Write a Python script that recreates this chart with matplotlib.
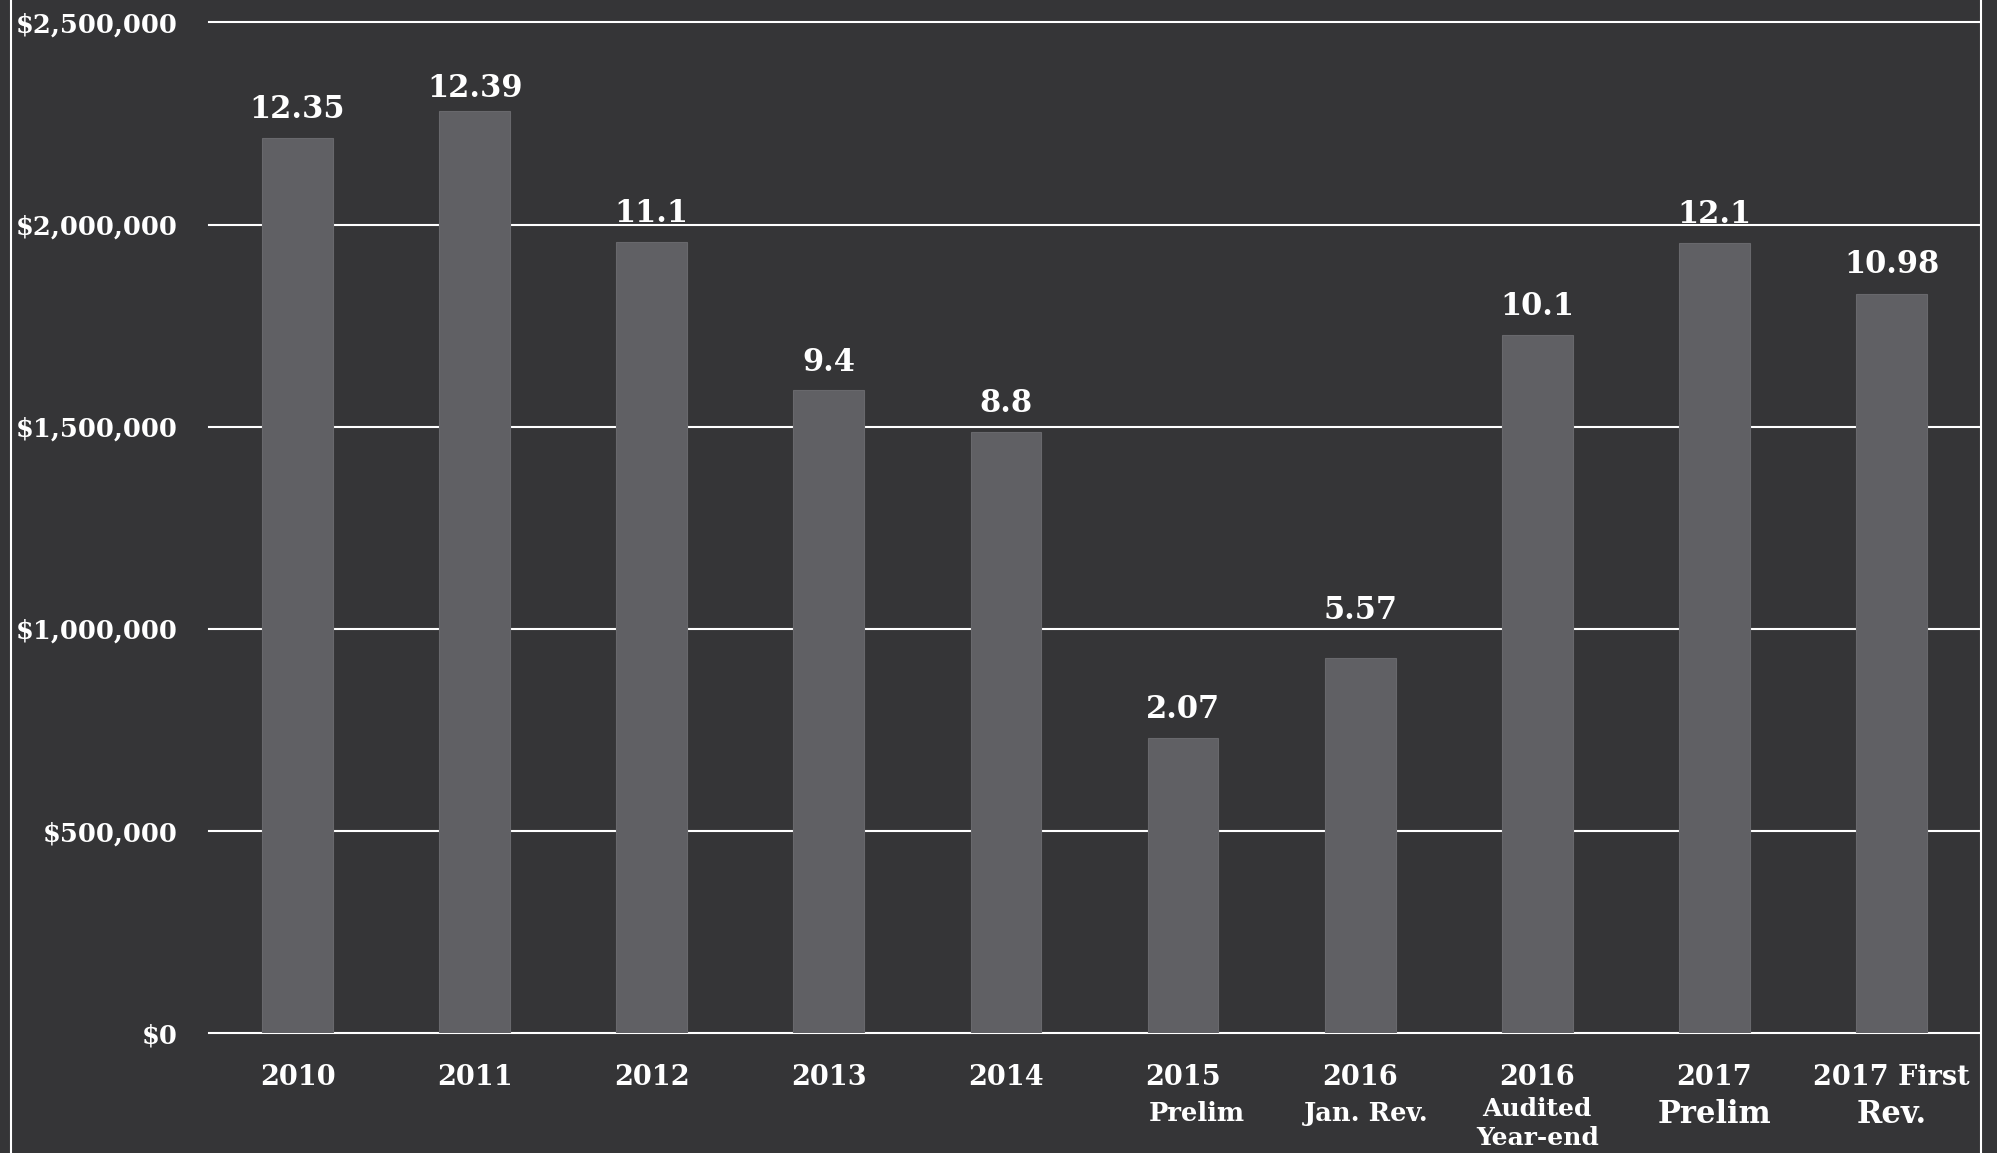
import matplotlib
matplotlib.use("Agg")
import matplotlib.pyplot as plt
from matplotlib.ticker import FuncFormatter
from matplotlib.lines import Line2D

# ---- data ----
categories_main = ["2010", "2011", "2012", "2013", "2014", "2015", "2016", "2016", "2017", "2017 First"]
categories_sub = ["", "", "", "", "", "Prelim", "Jan. Rev.", "Audited\nYear-end", "Prelim", "Rev."]
values = [2214000, 2281000, 1956000, 1591000, 1486000, 729000, 928000, 1727000, 1955000, 1828000]
value_labels = ["12.35", "12.39", "11.1", "9.4", "8.8", "2.07", "5.57", "10.1", "12.1", "10.98"]
yticks = [0, 500000, 1000000, 1500000, 2000000, 2500000]

# ---- style ----
BG = "#353537"
BAR = "#606064"
W, H, DPI = 1997, 1153, 100
PT = 72.0 / DPI  # points per pixel

plt.rcParams["font.family"] = ["DejaVu Serif"]
plt.rcParams["font.weight"] = "bold"

label_gap_px = [20, 14, 20, 19, 20, 20, 39, 20, 20, 21]
big_sub = [False] * 8 + [True, True]
sub_dx_px = [0, 0, 0, 0, 0, 14, 6, 0, 0, 0]

fig = plt.figure(figsize=(W / DPI, H / DPI), dpi=DPI, facecolor=BG)
ax_left, ax_right = 209 / W, 1980 / W
ax_bottom, ax_top = (H - 1033.3) / H, (H - 22.3) / H
ax = fig.add_axes([ax_left, ax_bottom, ax_right - ax_left, ax_top - ax_bottom])
ax.set_facecolor(BG)

x = list(range(len(values)))
ax.bar(x, values, width=0.4, color=BAR, edgecolor="#68686c", linewidth=0.8, zorder=2)
ax.set_xlim(-0.5, len(values) - 0.5)
ax.set_ylim(0, 2500000)
ax.set_yticks(yticks)
ax.yaxis.set_major_formatter(FuncFormatter(lambda v, p: f"${v:,.0f}"))
ax.grid(axis="y", color="white", linewidth=1.5, clip_on=False)
ax.grid(axis="x", visible=False)
ax.set_axisbelow(True)
for s in ax.spines.values():
    s.set_visible(False)
ax.tick_params(axis="y", length=0, pad=31 * PT, labelsize=18.5, labelcolor="white")
ax.tick_params(axis="x", length=0, labelbottom=False)

# value labels above bars
for i, (v, lab) in enumerate(zip(values, value_labels)):
    ax.annotate(lab, xy=(i, v), xytext=(0, label_gap_px[i] * PT), textcoords="offset points",
                ha="center", va="baseline", color="white", fontsize=22, fontweight="bold")

# category labels
for i, main in enumerate(categories_main):
    ax.annotate(main, xy=(i, 0), xycoords=("data", "axes fraction"),
                xytext=(0, -52 * PT), textcoords="offset points",
                ha="center", va="baseline", color="white", fontsize=19.5, fontweight="bold")
    sub = categories_sub[i]
    if not sub:
        continue
    lines = sub.split("\n")
    if big_sub[i]:
        size, base = 22, 90
    elif len(lines) > 1:
        size, base = 18, 83
    else:
        size, base = 18.5, 88
    for k, line in enumerate(lines):
        ax.annotate(line, xy=(i, 0), xycoords=("data", "axes fraction"),
                    xytext=(sub_dx_px[i] * PT, -(base + 29 * k) * PT), textcoords="offset points",
                    ha="center", va="baseline", color="white", fontsize=size, fontweight="bold")

# white frame edges
for xpx in (11, 1981):
    fig.add_artist(Line2D([xpx / W, xpx / W], [0, 1], transform=fig.transFigure,
                          color="white", linewidth=1.5))

fig.savefig("out.png", dpi=DPI, facecolor=BG)
